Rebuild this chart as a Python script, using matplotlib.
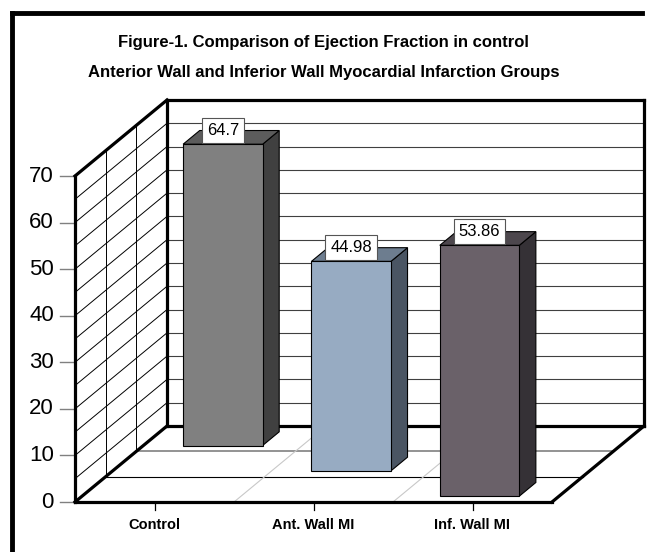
import matplotlib.pyplot as plt
from matplotlib.patches import Polygon, Rectangle

plt.rcParams['font.family'] = ['Liberation Sans', 'DejaVu Sans']

# chart data
categories = ['Control', 'Ant. Wall MI', 'Inf. Wall MI']
ef_values = [64.7, 44.98, 53.86]
value_labels = ['64.7', '44.98', '53.86']
depth_rows = [2, 1, 0]          # 0 = front row of the floor
y_ticks = [0, 10, 20, 30, 40, 50, 60, 70]
title_lines = ['Figure-1. Comparison of Ejection Fraction in control',
               'Anterior Wall and Inferior Wall Myocardial Infarction Groups']

# (front, top, side) shades per bar
bar_colors = [('#808080', '#5c5c5c', '#404040'),
              ('#97abc2', '#6d7d8f', '#4a5563'),
              ('#6a6169', '#4d474d', '#353136')]

# layout of the oblique 3-D box, in pixels
W, H = 647, 552
X0, Y0 = 75, 502            # front-left floor corner
PX_CAT = 159                # pixels per category
PX_UNIT = 4.657             # pixels per value unit
DX = 92 / PX_CAT            # full depth offset, in data units
DY = 76 / PX_UNIT
YMAX = 70
NCAT = len(categories)
NROWS = 3

fig = plt.figure(figsize=(W / 100, H / 100), dpi=100)
ax = fig.add_axes([0, 0, 1, 1])
ax.set_xlim(-X0 / PX_CAT, (W - X0) / PX_CAT)
ax.set_ylim(-(H - Y0) / PX_UNIT, Y0 / PX_UNIT)
ax.axis('off')


def line(xs, ys, **kw):
    ax.plot(xs, ys, solid_capstyle='projecting', **kw)


# back wall gridlines
for v in range(5, YMAX, 5):
    line([DX, NCAT + DX], [v + DY, v + DY], color='#404040', lw=0.8, zorder=1)
# side wall: diagonal gridlines and depth dividers
for v in range(5, YMAX, 5):
    line([0, DX], [v, v + DY], color='black', lw=0.7, zorder=1)
for k in range(1, NROWS):
    d = k / NROWS
    line([d * DX, d * DX], [d * DY, YMAX + d * DY], color='black', lw=0.7, zorder=1)
# floor: row dividers and category dividers
line([DX / 3, NCAT + DX / 3], [DY / 3, DY / 3], color='black', lw=0.8, zorder=1)
line([2 * DX / 3, NCAT + 2 * DX / 3], [2 * DY / 3, 2 * DY / 3], color='#808080', lw=1.2, zorder=1)
for k in range(1, NCAT):
    line([k, k + DX], [0, DY], color='#c8c8c8', lw=0.8, zorder=1)

# heavy box outline
thick = dict(color='black', lw=2.3, zorder=2)
line([DX, NCAT + DX], [YMAX + DY, YMAX + DY], **thick)
line([DX, DX], [DY, YMAX + DY], **thick)
line([NCAT + DX, NCAT + DX], [DY, YMAX + DY], **thick)
line([DX, NCAT + DX], [DY, DY], **thick)
line([0, DX], [YMAX, YMAX + DY], **thick)
line([0, 0], [0, YMAX], **thick)
line([0, DX], [0, DY], **thick)
line([0, NCAT], [0, 0], **thick)
line([NCAT, NCAT + DX], [0, DY], **thick)

# value axis
for v in y_ticks:
    ax.plot([-15 / PX_CAT, 0], [v, v], color='#808080', lw=1.0, zorder=1)
    ax.text(-21 / PX_CAT, v, str(v), ha='right', va='center', fontsize=16)

# category axis
for i, name in enumerate(categories):
    ax.plot([i + 0.5, i + 0.5], [0, -8 / PX_UNIT], color='black', lw=0.9, zorder=1)
    ax.text(i + 0.5, -23 / PX_UNIT, name, ha='center', va='center',
            fontsize=10.5, fontweight='bold')

# bars, back row first
for i, (v, lab, r) in enumerate(zip(ef_values, value_labels, depth_rows)):
    front_c, top_c, side_c = bar_colors[i]
    d_front = (r + 0.23) / NROWS
    d_back = (r + 0.77) / NROWS
    bdx = (d_back - d_front) * DX
    bdy = (d_back - d_front) * DY
    x0 = i + 0.25 + d_front * DX
    x1 = x0 + 0.5
    yb = d_front * DY
    yt = yb + v
    z = 3 + i
    ax.add_patch(Polygon([(x1, yb), (x1 + bdx, yb + bdy), (x1 + bdx, yt + bdy), (x1, yt)],
                         closed=True, fc=side_c, ec='black', lw=0.8, zorder=z))
    ax.add_patch(Polygon([(x0, yt), (x0 + bdx, yt + bdy), (x1 + bdx, yt + bdy), (x1, yt)],
                         closed=True, fc=top_c, ec='black', lw=0.8, zorder=z))
    ax.add_patch(Rectangle((x0, yb), 0.5, v, fc=front_c, ec='black', lw=0.8, zorder=z))
    ax.text((x0 + x1) / 2, yt + 3.0, lab, ha='center', va='center', fontsize=12, zorder=10,
            bbox=dict(boxstyle='square,pad=0.3', fc='white', ec='#555555', lw=0.8))

# titles
fig.text(0.5, 1 - 42 / H, title_lines[0], ha='center', va='center',
         fontsize=12, fontweight='bold')
fig.text(0.5, 1 - 72 / H, title_lines[1], ha='center', va='center',
         fontsize=12, fontweight='bold')

# outer border (left and top edges)
fig.add_artist(plt.Line2D([12 / W, 12 / W], [0, 1 - 13 / H], transform=fig.transFigure,
                          color='black', lw=3.5, solid_capstyle='projecting'))
fig.add_artist(plt.Line2D([12 / W, 642 / W], [1 - 13 / H, 1 - 13 / H], transform=fig.transFigure,
                          color='black', lw=3.5, solid_capstyle='projecting'))

fig.savefig('out.png', dpi=100)
